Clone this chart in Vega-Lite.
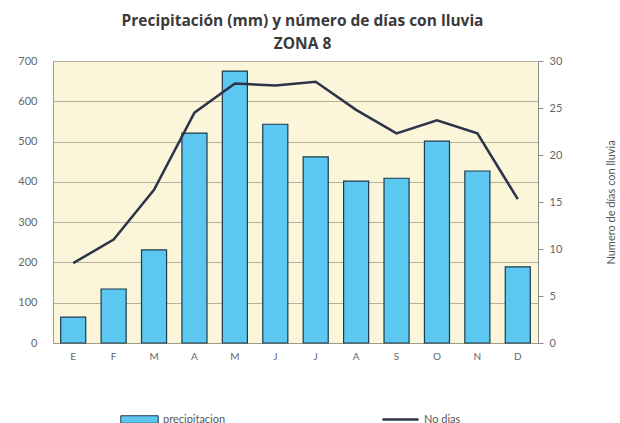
{
  "$schema": "https://vega.github.io/schema/vega-lite/v6.json",
  "autosize": {"type": "none"},
  "width": 485,
  "height": 282,
  "padding": {"left": 53, "top": 61, "right": 82, "bottom": 80},
  "background": "#ffffff",
  "title": {
    "text": ["Precipitación (mm)  y número de días con lluvia", "ZONA 8"],
    "font": "Open Sans",
    "fontSize": 15.5,
    "fontWeight": "bold",
    "color": "#3a3a3a",
    "lineHeight": 23,
    "anchor": "middle",
    "dx": 7,
    "offset": 3
  },
  "config": {
    "view": {"fill": "#fbf5d9", "stroke": null},
    "axis": {"labelFont": "Lato", "labelColor": "#666666", "labelFontSize": 11, "titleFont": "Lato", "titleFontWeight": "normal", "titleColor": "#555555", "titleFontSize": 11},
    "legend": {"labelFont": "Lato", "labelColor": "#555555", "labelFontSize": 11}
  },
  "data": {
    "values": [
      {"mes": "E", "precip": 64, "dias": 8.5},
      {"mes": "F", "precip": 134, "dias": 11.0},
      {"mes": "M1", "precip": 231, "dias": 16.3},
      {"mes": "A1", "precip": 521, "dias": 24.5},
      {"mes": "M2", "precip": 675, "dias": 27.6},
      {"mes": "J1", "precip": 543, "dias": 27.4},
      {"mes": "J2", "precip": 462, "dias": 27.8},
      {"mes": "A2", "precip": 402, "dias": 24.8},
      {"mes": "S", "precip": 409, "dias": 22.3},
      {"mes": "O", "precip": 501, "dias": 23.7},
      {"mes": "N", "precip": 427, "dias": 22.3},
      {"mes": "D", "precip": 189, "dias": 15.3}
    ]
  },
  "encoding": {
    "x": {
      "field": "mes",
      "type": "nominal",
      "sort": null,
      "scale": {"paddingInner": 0.38, "paddingOuter": 0.19},
      "axis": {
        "title": null,
        "labelAngle": 0,
        "labelExpr": "slice(datum.value, 0, 1)",
        "ticks": false,
        "domain": true,
        "domainColor": "#a09a8a",
        "labelPadding": 8,
        "labelFontSize": 10
      }
    }
  },
  "layer": [
    {
      "mark": {"type": "bar", "stroke": "#1d3a4a", "strokeWidth": 1.2},
      "encoding": {
        "y": {
          "field": "precip",
          "type": "quantitative",
          "scale": {"domain": [0, 700]},
          "axis": {
            "title": null,
            "values": [0, 100, 200, 300, 400, 500, 600, 700],
            "grid": true,
            "gridColor": "#b9b09c",
            "gridWidth": 1,
            "ticks": false,
            "domain": true,
            "domainColor": "#a09a8a",
            "labelPadding": 16
          }
        },
        "fill": {
          "datum": "precipitacion",
          "scale": {"range": ["#5cc7f0"]},
          "legend": {
            "title": null,
            "orient": "none",
            "legendX": 67,
            "legendY": 339,
            "symbolType": "M-1,-0.2H1V0.2H-1Z",
            "symbolSize": 1400,
            "symbolStrokeColor": "#1d3a4a",
            "symbolStrokeWidth": 1,
            "symbolOpacity": 1
          }
        }
      }
    },
    {
      "mark": {"type": "line", "strokeWidth": 2.5},
      "encoding": {
        "y": {
          "field": "dias",
          "type": "quantitative",
          "scale": {"domain": [0, 30]},
          "axis": {
            "orient": "right",
            "title": "Numero de días con lluvia",
            "titleAngle": 270,
            "titlePadding": 55,
            "values": [0, 5, 10, 15, 20, 25, 30],
            "grid": false,
            "ticks": true,
            "tickSize": 5,
            "tickColor": "#8a8a8a",
            "domain": true,
            "domainColor": "#8a8a8a",
            "labelPadding": 6
          }
        },
        "stroke": {
          "datum": "No dias",
          "scale": {"range": ["#2b3449"]},
          "legend": {
            "title": null,
            "orient": "none",
            "legendX": 328,
            "legendY": 339,
            "symbolType": "stroke",
            "symbolSize": 1300,
            "symbolStrokeWidth": 2.5
          }
        }
      }
    }
  ],
  "resolve": {"scale": {"y": "independent", "fill": "independent", "stroke": "independent"}}
}
